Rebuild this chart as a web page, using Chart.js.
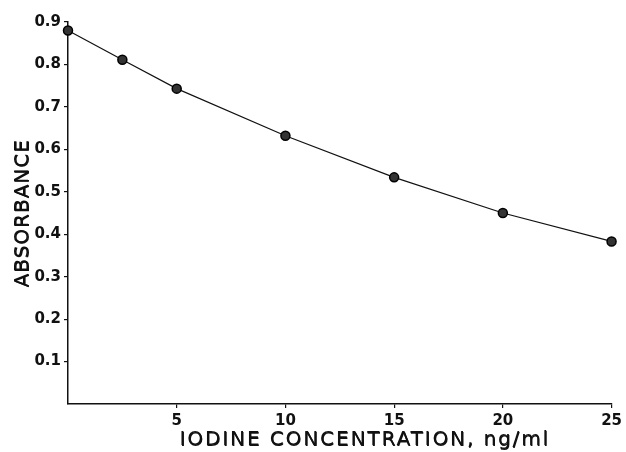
<!DOCTYPE html>
<html><head><meta charset="utf-8">
<script src="https://cdn.jsdelivr.net/npm/chart.js@4"></script>
<style>html,body{margin:0;padding:0;background:#fff}#wrap{width:626px;height:452px}</style>
</head><body><div id="wrap"><canvas id="c" width="626" height="452"></canvas></div>
<script>
const concentrations = [0, 2.5, 5, 10, 15, 20, 25];
const absorbance = [0.880, 0.811, 0.743, 0.632, 0.534, 0.450, 0.383];
const xTickValues = [5, 10, 15, 20, 25];
const yTickValues = [0.1, 0.2, 0.3, 0.4, 0.5, 0.6, 0.7, 0.8, 0.9];
const xTitle = 'IODINE CONCENTRATION, ng/ml';
const yTitle = 'ABSORBANCE';

const ink = '#111';
const tickFont = {family: 'DejaVu Sans, sans-serif', size: 15, weight: 'bold'};
const titleFont = {family: 'DejaVu Sans, sans-serif', size: 20, weight: 'normal'};

function styleTitle(spacing, dx) {
  return s => {
    if (s._titleWrapped) return;
    const orig = s.drawTitle.bind(s);
    s.drawTitle = function () {
      const ctx = this.ctx;
      [[0, 0], [0.5, 0.4]].forEach(([ox, oy]) => {
        ctx.save();
        ctx.letterSpacing = spacing;
        ctx.translate(dx + ox, oy);
        orig();
        ctx.restore();
      });
    };
    s._titleWrapped = true;
  };
}

new Chart(document.getElementById('c'), {
  type: 'scatter',
  data: {
    datasets: [{
      data: concentrations.map((x, i) => ({x: x, y: absorbance[i]})),
      showLine: true,
      borderColor: ink,
      borderWidth: 1.2,
      tension: 0,
      pointRadius: 4.5,
      pointBackgroundColor: '#333',
      pointBorderColor: '#000',
      pointBorderWidth: 1.5,
      clip: false
    }]
  },
  options: {
    responsive: false,
    animation: false,
    devicePixelRatio: 1,
    layout: {padding: {left: 0, top: 22, right: 12, bottom: 0}},
    plugins: {legend: {display: false}, tooltip: {enabled: false}},
    scales: {
      x: {
        type: 'linear', min: 0, max: 25,
        afterFit: s => { s.height = 48; },
        afterUpdate: styleTitle('1.9px', 25),
        afterBuildTicks: s => { s.ticks = xTickValues.map(v => ({value: v})); },
        grid: {display: true, drawOnChartArea: false, drawTicks: true, tickLength: 4, color: ink, lineWidth: 1.2},
        border: {display: true, color: ink, width: 1.5},
        ticks: {color: ink, font: tickFont, padding: 4, maxRotation: 0, callback: v => String(v)},
        title: {display: true, text: xTitle, color: ink, font: titleFont, padding: {top: 0, bottom: 0}}
      },
      y: {
        type: 'linear', min: 0, max: 0.9,
        afterFit: s => { s.width = 68; },
        afterUpdate: styleTitle('1px', 0),
        afterBuildTicks: s => { s.ticks = yTickValues.map(v => ({value: v})); },
        grid: {display: true, drawOnChartArea: false, drawTicks: true, tickLength: 4, color: ink, lineWidth: 1.2},
        border: {display: true, color: ink, width: 1.5},
        ticks: {color: ink, font: tickFont, padding: 3, callback: v => v.toFixed(1)},
        title: {display: true, text: yTitle, color: ink, font: titleFont, padding: {top: 11, bottom: 0}}
      }
    }
  }
});
</script>
</body></html>
